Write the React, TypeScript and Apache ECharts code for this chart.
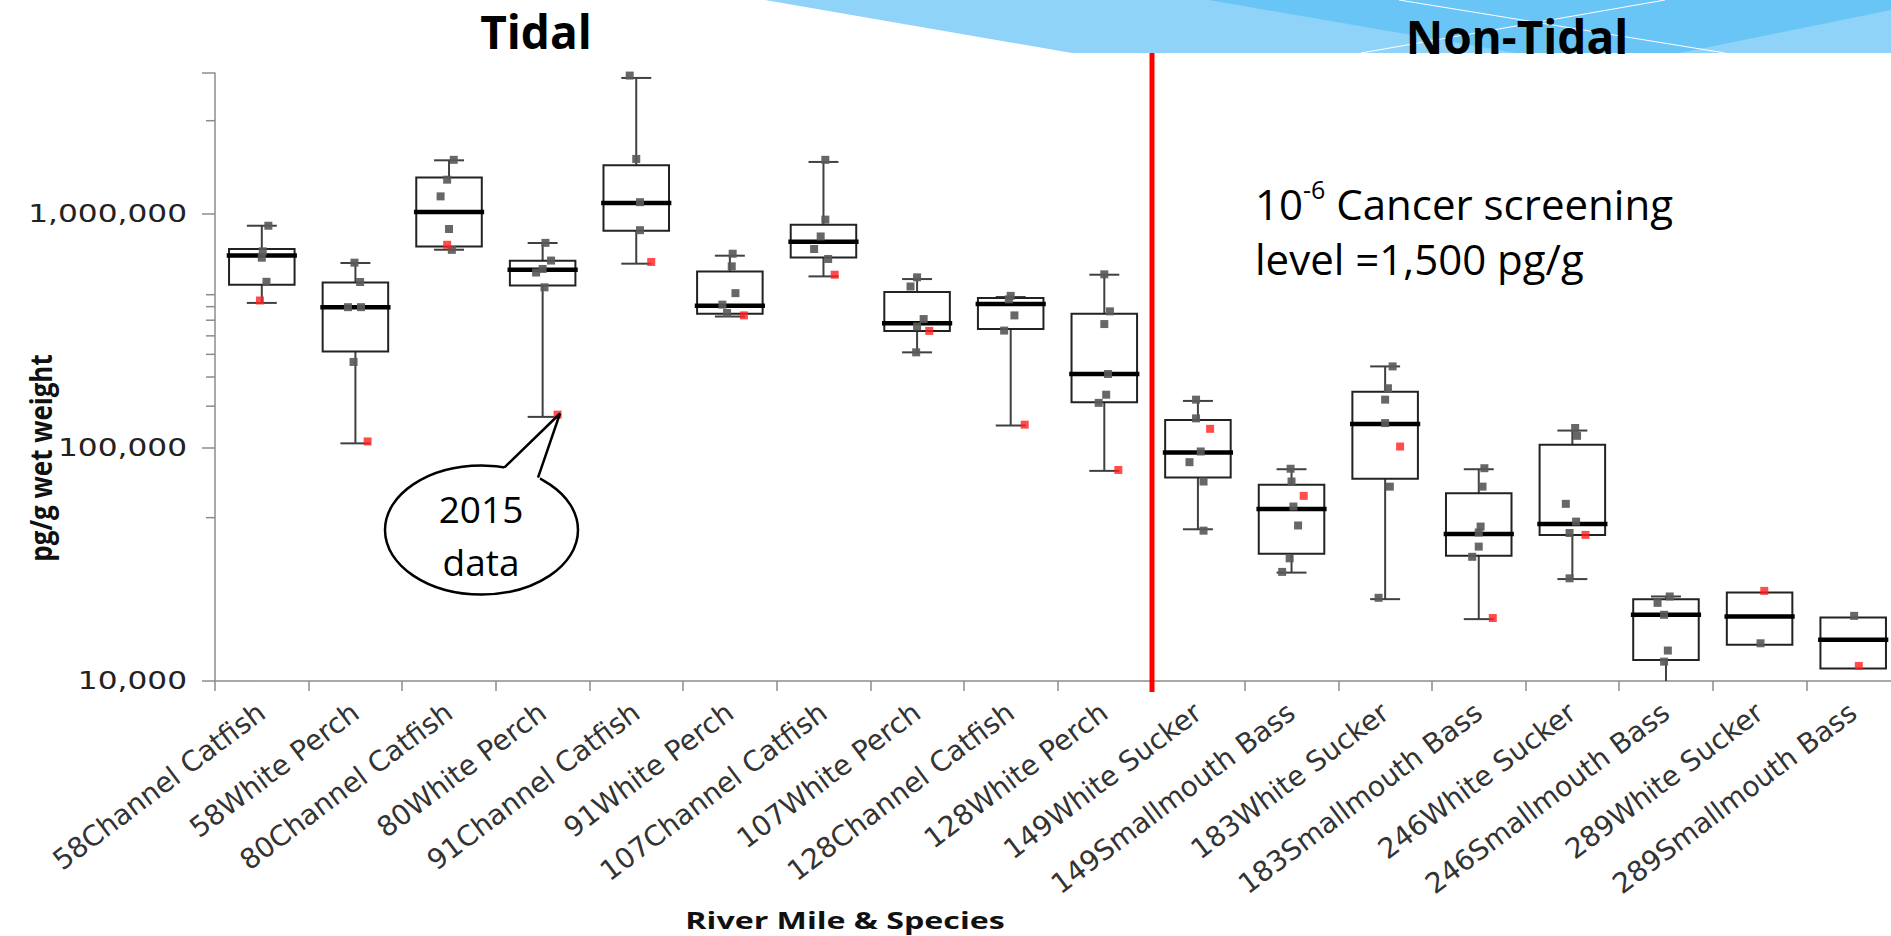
import React, { useEffect, useRef } from 'react';
import * as echarts from 'echarts';

const categories = [
  '58Channel Catfish', '58White Perch', '80Channel Catfish', '80White Perch',
  '91Channel Catfish', '91White Perch', '107Channel Catfish', '107White Perch',
  '128Channel Catfish', '128White Perch', '149White Sucker', '149Smallmouth Bass',
  '183White Sucker', '183Smallmouth Bass', '246White Sucker', '246Smallmouth Bass',
  '289White Sucker', '289Smallmouth Bass',
];

// [min, Q1, median, Q3, max] in pg/g wet weight
const boxStats = [
  [415000, 497000, 663000, 706000, 888000],
  [104000, 257000, 398000, 508000, 615000],
  [701000, 724000, 1017000, 1430000, 1692000],
  [135000, 493000, 576000, 629000, 749000],
  [611000, 846000, 1111000, 1610000, 3810000],
  [363000, 373000, 404000, 566000, 661000],
  [539000, 650000, 759000, 897000, 1665000],
  [255000, 315000, 340000, 462000, 525000],
  [124000, 321000, 411000, 436000, 440000],
  [79300, 156000, 206000, 373000, 548000],
  [44600, 74200, 95000, 131000, 158000],
  [29100, 35000, 54500, 69100, 80600],
  [22400, 73300, 126000, 173000, 222000],
  [18400, 34400, 42600, 63600, 80600],
  [27300, 42200, 47000, 102500, 118000],
  [9000, 12300, 19200, 22400, 23000],
  [14300, 14300, 18900, 23900, 23900],
  [11300, 11300, 15000, 18700, 18700],
];

// earlier samples: [category index, value, jitter (fraction of category)]
const samplePoints = [
  [0, 888000, 0.07], [0, 690000, 0.01], [0, 648000, 0.0], [0, 511000, 0.05],
  [1, 617000, -0.01], [1, 510000, 0.05], [1, 398000, -0.08], [1, 398000, 0.06], [1, 232000, -0.02],
  [2, 1700000, 0.05], [2, 1398000, -0.02], [2, 1186000, -0.09], [2, 860000, 0.0], [2, 700000, 0.03],
  [3, 750000, 0.03], [3, 630000, 0.09], [3, 580000, 0.0], [3, 560000, -0.07], [3, 484000, 0.02],
  [4, 3900000, -0.07], [4, 1715000, 0.0], [4, 1120000, 0.04], [4, 850000, 0.04],
  [5, 674000, 0.03], [5, 595000, 0.02], [5, 457000, 0.06], [5, 408000, -0.08], [5, 376000, -0.03],
  [6, 1700000, 0.02], [6, 943000, 0.02], [6, 799000, -0.03], [6, 706000, -0.1], [6, 640000, 0.05],
  [7, 534000, 0.0], [7, 488000, -0.07], [7, 354000, 0.07], [7, 329000, 0.0], [7, 255000, -0.01],
  [8, 445000, 0.0], [8, 430000, -0.02], [8, 367000, 0.04], [8, 316000, -0.07],
  [9, 550000, 0.0], [9, 382000, 0.06], [9, 337000, 0.0], [9, 206000, 0.04], [9, 168000, 0.02], [9, 155000, -0.06],
  [10, 160000, -0.02], [10, 133000, -0.02], [10, 96000, 0.03], [10, 86400, -0.09], [10, 71400, 0.06], [10, 44000, 0.06],
  [11, 81000, -0.01], [11, 71400, 0.0], [11, 55800, 0.02], [11, 46300, 0.07], [11, 33500, -0.02], [11, 29300, -0.1],
  [12, 222000, 0.08], [12, 179000, 0.03], [12, 160000, 0.0], [12, 127000, 0.0], [12, 67900, 0.05], [12, 22700, -0.07],
  [13, 81400, 0.06], [13, 67900, 0.04], [13, 45800, 0.02], [13, 43200, 0.0], [13, 37600, 0.0], [13, 34000, -0.07],
  [14, 121000, 0.03], [14, 112000, 0.05], [14, 57300, -0.07], [14, 48100, 0.04], [14, 43000, -0.03], [14, 27500, -0.03],
  [15, 23000, 0.04], [15, 21600, -0.09], [15, 19200, -0.02], [15, 13500, 0.02], [15, 12100, -0.02],
  [16, 14500, 0.01],
  [17, 19000, 0.01],
];

// 2015 samples: [category index, value, jitter]
const points2015 = [
  [0, 425000, -0.02], [1, 106000, 0.13], [2, 736000, -0.02], [3, 138000, 0.16],
  [4, 621000, 0.16], [5, 367000, 0.15], [6, 548000, 0.12], [7, 315000, 0.13],
  [8, 125000, 0.15], [9, 80000, 0.15], [10, 120000, 0.13], [11, 62000, 0.13],
  [12, 100800, 0.16], [13, 18600, 0.15], [14, 42200, 0.14], [16, 24300, 0.05],
  [17, 11600, 0.06],
];

const majorTicks = [10000, 100000, 1000000];
const minorTicks = [50000, 150000, 200000, 250000, 300000, 350000, 400000, 450000, 2500000];

const AXIS_GREY = '#8c8c8c';

export default function App() {
  const ref = useRef<HTMLDivElement>(null);

  useEffect(() => {
    if (!ref.current) return;
    const chart = echarts.init(ref.current, undefined, { renderer: 'svg' });

    const boxData = boxStats.map((s, i) => [i, ...s]);

    const option: any = {
      animation: false,
      grid: { left: 215, top: 73, width: 1685, height: 608, containLabel: false, outerBoundsMode: 'none' },
      xAxis: [
        {
          type: 'category',
          data: categories,
          boundaryGap: true,
          axisLine: { show: true, onZero: false, lineStyle: { color: AXIS_GREY, width: 1.5 } },
          axisTick: { show: true, length: 10, lineStyle: { color: AXIS_GREY, width: 1.5 } },
          axisLabel: {
            interval: 0, rotate: 37, margin: 28,
            fontFamily: 'DejaVu Sans', fontSize: 28, color: '#333',
          },
          splitLine: { show: false },
        },
        { type: 'value', min: -0.5, max: 17.5, show: false },
      ],
      yAxis: {
        type: 'log',
        logBase: 10,
        min: 10000,
        max: 4000000,
        axisLine: { show: true, onZero: false, lineStyle: { color: AXIS_GREY, width: 1.5 } },
        axisTick: { show: true, length: 13, lineStyle: { color: AXIS_GREY, width: 1.5 } },
        axisLabel: { show: false },
        splitLine: { show: false },
        minorTick: { show: false },
      },
      series: [
        {
          type: 'custom',
          name: 'boxes',
          xAxisIndex: 0,
          yAxisIndex: 0,
          clip: true,
          silent: true,
          z: 2,
          encode: { x: 0, y: [1, 2, 3, 4, 5] },
          data: boxData,
          renderItem: (params: any, api: any) => {
            const i = api.value(0);
            const band = api.size([1, 0])[0];
            const cx = api.coord([i, api.value(3)])[0];
            const yMin = api.coord([i, api.value(1)])[1];
            const yQ1 = api.coord([i, api.value(2)])[1];
            const yMed = api.coord([i, api.value(3)])[1];
            const yQ3 = api.coord([i, api.value(4)])[1];
            const yMax = api.coord([i, api.value(5)])[1];
            const bw = band * 0.7;
            const capW = band * 0.32;
            const medW = band * 0.75;
            const wStyle = { stroke: '#404040', lineWidth: 2 };
            const children: any[] = [];
            if (yMax < yQ3 - 0.5) {
              children.push({ type: 'line', shape: { x1: cx, y1: yMax, x2: cx, y2: yQ3 }, style: wStyle });
              children.push({ type: 'line', shape: { x1: cx - capW / 2, y1: yMax, x2: cx + capW / 2, y2: yMax }, style: wStyle });
            }
            if (yMin > yQ1 + 0.5) {
              children.push({ type: 'line', shape: { x1: cx, y1: yQ1, x2: cx, y2: yMin }, style: wStyle });
              children.push({ type: 'line', shape: { x1: cx - capW / 2, y1: yMin, x2: cx + capW / 2, y2: yMin }, style: wStyle });
            }
            children.push({
              type: 'rect',
              shape: { x: cx - bw / 2, y: yQ3, width: bw, height: yQ1 - yQ3 },
              style: { fill: 'none', stroke: '#222', lineWidth: 2 },
            });
            children.push({
              type: 'line',
              shape: { x1: cx - medW / 2, y1: yMed, x2: cx + medW / 2, y2: yMed },
              style: { stroke: '#000', lineWidth: 4.5 },
            });
            return { type: 'group', children };
          },
        },
        {
          type: 'custom',
          name: 'minorTicks',
          xAxisIndex: 0,
          yAxisIndex: 0,
          silent: true,
          clip: false,
          encode: { x: 0, y: 1 },
          data: minorTicks.map((v) => [0, v]),
          renderItem: (params: any, api: any) => {
            const y = api.coord([0, api.value(1)])[1];
            const x0 = params.coordSys.x;
            return {
              type: 'line',
              shape: { x1: x0 - 9, y1: y, x2: x0, y2: y },
              style: { stroke: AXIS_GREY, lineWidth: 1.5 },
            };
          },
        },
        {
          // y-axis tick labels (horizontally stretched like the reference)
          type: 'custom',
          name: 'yLabels',
          xAxisIndex: 0,
          yAxisIndex: 0,
          silent: true,
          clip: false,
          encode: { x: 0, y: 1 },
          data: majorTicks.map((v) => [0, v]),
          renderItem: (params: any, api: any) => {
            const v = api.value(1);
            const y = api.coord([0, v])[1];
            const x0 = params.coordSys.x;
            return {
              type: 'text',
              x: x0 - 28,
              y,
              scaleX: 1.3,
              style: {
                text: Math.round(v).toLocaleString('en-US'),
                x: 0, y: 0,
                align: 'right', verticalAlign: 'middle',
                fontFamily: 'DejaVu Sans', fontSize: 24, fill: '#222',
              },
            };
          },
        },
        {
          type: 'scatter',
          name: 'samples',
          xAxisIndex: 1,
          yAxisIndex: 0,
          symbol: 'rect',
          symbolSize: 8,
          z: 3,
          itemStyle: { color: '#5a5a5a', opacity: 0.92 },
          data: samplePoints.map((p) => [p[0] + p[2], p[1]]),
        },
        {
          type: 'scatter',
          name: '2015',
          xAxisIndex: 1,
          yAxisIndex: 0,
          symbol: 'rect',
          symbolSize: 8,
          z: 4,
          itemStyle: { color: '#ff2020' },
          data: points2015.map((p) => [p[0] + p[2], p[1]]),
        },
      ],
      graphic: [
        // top-right banner
        { type: 'polygon', z: 1, silent: true, shape: { points: [[765, 0], [1891, 0], [1891, 53], [1072, 53]] }, style: { fill: '#8fd3f8' } },
        { type: 'polygon', z: 1, silent: true, shape: { points: [[1209, 0], [1891, 0], [1891, 10], [1680, 53], [1516, 53]] }, style: { fill: '#68c5f5' } },
        { type: 'line', z: 1, silent: true, shape: { x1: 1399, y1: 0, x2: 1725, y2: 53 }, style: { stroke: '#ffffff', lineWidth: 1 } },
        { type: 'line', z: 1, silent: true, shape: { x1: 1665, y1: 0, x2: 1361, y2: 53 }, style: { stroke: '#ffffff', lineWidth: 1 } },
        // section titles
        { type: 'text', z: 5, silent: true, style: { text: 'Tidal', x: 536, y: 31, align: 'center', verticalAlign: 'middle', fontFamily: 'Open Sans', fontWeight: 'bold', fontSize: 46, fill: '#000' } },
        { type: 'text', z: 5, silent: true, style: { text: 'Non-Tidal', x: 1517, y: 36, align: 'center', verticalAlign: 'middle', fontFamily: 'Open Sans', fontWeight: 'bold', fontSize: 46, fill: '#000' } },
        // tidal / non-tidal divider
        { type: 'line', z: 6, silent: true, shape: { x1: 1152, y1: 53, x2: 1152, y2: 692 }, style: { stroke: '#ff0000', lineWidth: 5 } },
        // screening level note
        {
          type: 'text', z: 5, silent: true,
          style: {
            text: '{n|10}{s|-6}{n| Cancer screening}\n{n|level =1,500 pg/g}',
            x: 1255, y: 176, align: 'left', verticalAlign: 'top',
            rich: {
              n: { fontFamily: 'Open Sans', fontSize: 42, lineHeight: 55, fill: '#000' },
              s: { fontFamily: 'Open Sans', fontSize: 25, lineHeight: 25, verticalAlign: 'top', fill: '#000' },
            },
          },
        },
        // axis titles
        { type: 'text', z: 5, silent: true, x: 40, y: 458, rotation: Math.PI / 2, scaleY: 1.15, style: { text: 'pg/g wet weight', x: 0, y: 0, align: 'center', verticalAlign: 'middle', fontFamily: 'Open Sans', fontWeight: 'bold', fontSize: 26, fill: '#111' } },
        { type: 'text', z: 5, silent: true, x: 845, y: 920, scaleX: 1.34, style: { text: 'River Mile & Species', x: 0, y: 0, align: 'center', verticalAlign: 'middle', fontFamily: 'Open Sans', fontWeight: 'bold', fontSize: 24, fill: '#111' } },
        // "2015 data" callout
        { type: 'ellipse', z: 10, silent: true, shape: { cx: 481.5, cy: 530, rx: 96.5, ry: 64.5 }, style: { fill: '#fff', stroke: '#000', lineWidth: 2.5 } },
        { type: 'polygon', z: 11, silent: true, shape: { points: [[503.5, 469], [560, 413.5], [539.5, 480], [521, 477]] }, style: { fill: '#fff' } },
        { type: 'polyline', z: 12, silent: true, shape: { points: [[504.5, 467.3], [560, 413.5], [538, 477.7]] }, style: { stroke: '#000', lineWidth: 2.5, fill: 'none' } },
        { type: 'text', z: 13, silent: true, style: { text: '2015', x: 481, y: 508, align: 'center', verticalAlign: 'middle', fontFamily: 'Open Sans', fontSize: 37, fill: '#000' } },
        { type: 'text', z: 13, silent: true, style: { text: 'data', x: 481, y: 561, align: 'center', verticalAlign: 'middle', fontFamily: 'Open Sans', fontSize: 37, fill: '#000' } },
      ],
    };

    chart.setOption(option);
    return () => chart.dispose();
  }, []);

  return (
    <div
      ref={ref}
      style={{ position: 'fixed', left: 0, top: 0, width: 1891, height: 936, background: '#fff' }}
    />
  );
}
